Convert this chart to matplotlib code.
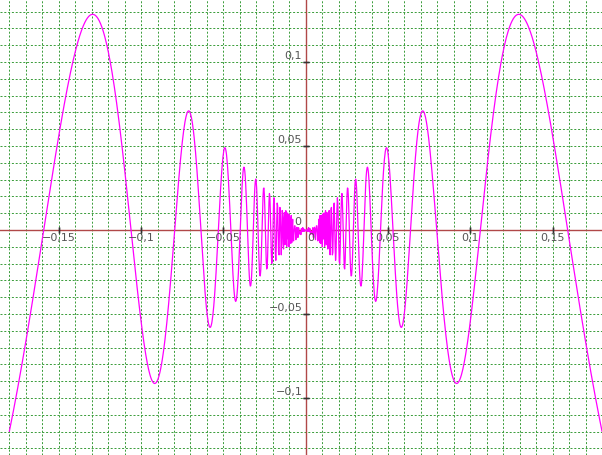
import numpy as np
import matplotlib
matplotlib.use("Agg")
import matplotlib.pyplot as plt

# plotted function y = x*sin(1/x), sampled over the visible range
x_start = -0.18
x_end = 0.18
n_points = 1300

# axis window and grid step
x_lim = (-0.1857, 0.1726)
y_lim = (-0.1339, 0.1369)
grid_step = 0.01

x_tick_values = [-0.15, -0.1, -0.05, 0.05, 0.1, 0.15]
x_tick_labels = ["\u22120,15", "\u22120,1", "\u22120,05", "0,05", "0,1", "0,15"]
y_tick_values = [-0.1, -0.05, 0.05, 0.1]
y_tick_labels = ["\u22120,1", "\u22120,05", "0,05", "0,1"]

x = np.linspace(x_start, x_end, n_points)
y = x*np.sin(1.0/x)

fig = plt.figure(figsize=(6.02, 4.55), dpi=100)
ax = fig.add_axes([0, 0, 1, 1])
ax.set_xlim(*x_lim)
ax.set_ylim(*y_lim)
for s in ax.spines.values():
	s.set_visible(False)

gx = np.arange(-0.18, 0.1801, grid_step)
gy = np.arange(-0.13, 0.1301, grid_step)
ax.set_xticks(gx)
ax.set_yticks(gy)
ax.tick_params(length=0, labelbottom=False, labelleft=False)
ax.grid(True, color="#3f9f3f", linestyle=(0, (2, 1.8)), linewidth=0.72)

ax.axhline(0, color="#b04848", linewidth=1.0, zorder=2)
ax.axvline(0, color="#b04848", linewidth=1.0, zorder=2)

ax.plot(x, y, color="#ff00ff", linewidth=0.9, zorder=3)

txt = dict(fontsize=8, color="#555555", family="DejaVu Sans")
for v, lab in zip(x_tick_values, x_tick_labels):
	ax.plot([v, v], [0, 0], marker="|", markersize=5, color="#333333", zorder=2)
	ax.annotate(lab, (v, 0), xytext=(0, -2.5), textcoords="offset points",
		ha="center", va="top", **txt)
for v, lab in zip(y_tick_values, y_tick_labels):
	ax.plot([0, 0], [v, v], marker="_", markersize=5, color="#333333", zorder=2)
	ax.annotate(lab, (0, v), xytext=(-2.5, 0.5), textcoords="offset points",
		ha="right", va="bottom", **txt)
ax.annotate("0", (0, 0), xytext=(-3, 2), textcoords="offset points", ha="right", va="bottom", **txt)
ax.annotate("0", (0, 0), xytext=(3.5, -2.5), textcoords="offset points", ha="center", va="top", **txt)

fig.savefig("out.png", dpi=100)
